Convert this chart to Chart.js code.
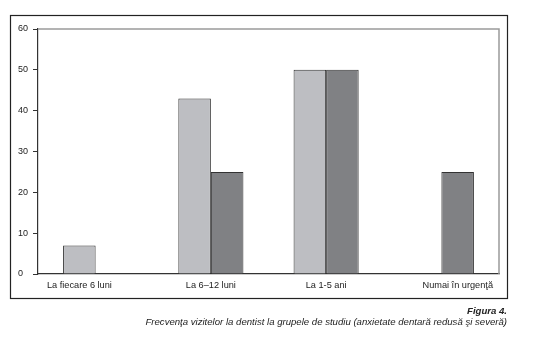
<!DOCTYPE html>
<html>
<head>
<meta charset="utf-8">
<script src="https://cdn.jsdelivr.net/npm/chart.js@4"></script>
<style>
  body { margin: 0; background: #fff; }
  #wrap { position: relative; width: 539px; height: 350px; }
  .cap { position: absolute; right: 32px; font-family: "Liberation Sans", Arial, sans-serif;
         font-style: italic; font-size: 9.6px; color: #222; white-space: nowrap; }
</style>
</head>
<body>
<div id="wrap">
  <canvas id="myChart" width="539" height="350"></canvas>
  <div class="cap" style="top:305px;font-weight:bold;font-size:9.6px;">Figura 4.</div>
  <div class="cap" style="top:316px;">Frecvenţa vizitelor la dentist la grupele de studiu (anxietate dentară redusă şi severă)</div>
</div>
<script>
'use strict';

// data
const categories = ['La fiecare 6 luni', 'La 6–12 luni', 'La 1-5 ani', 'Numai în urgenţă'];
const reduced = [7, 43, 50, 0];
const severe = [0, 25, 50, 25];
const yTicks = [0, 10, 20, 30, 40, 50, 60];

const font = { family: '"Liberation Sans", Arial, sans-serif', size: 9.2 };

// outer frame + grey top/right border + category labels
const framePlugin = {
  id: 'frame',
  beforeDraw(chart) {
    const c = chart.ctx;
    c.save();
    c.strokeStyle = '#222';
    c.lineWidth = 1.2;
    c.strokeRect(10.5, 15.5, 497, 283);
    c.restore();
  },
  afterDraw(chart) {
    const c = chart.ctx;
    const a = chart.chartArea;
    c.save();
    c.strokeStyle = '#9a9a9a';
    c.lineWidth = 1.5;
    c.beginPath();
    c.moveTo(a.left, a.top);
    c.lineTo(a.right, a.top);
    c.lineTo(a.right, a.bottom);
    c.stroke();

    // x labels: first and last kept inside the plot
    const xs = chart.scales.x;
    c.fillStyle = '#222';
    c.font = font.size + 'px ' + font.family;
    c.textBaseline = 'middle';
    const y = a.bottom + 11;
    for (let i = 0; i < categories.length; i++) {
      let x = xs.getPixelForValue(i);
      c.textAlign = 'center';
      if (i === 0) { c.textAlign = 'left'; x = a.left + 9; }
      if (i === categories.length - 1) { c.textAlign = 'right'; x = a.right - 6; }
      c.fillText(categories[i], x, y);
    }
    c.restore();
  }
};

const ctx = document.getElementById('myChart').getContext('2d');
const myChart = new Chart(ctx, {
  type: 'bar',
  data: {
    labels: categories,
    datasets: [{
      data: reduced,
      backgroundColor: '#bdbec2',
      borderColor: '#333',
      borderWidth: 1,
      borderSkipped: 'bottom'
    }, {
      data: severe,
      backgroundColor: '#808184',
      borderColor: '#333',
      borderWidth: 1,
      borderSkipped: 'bottom'
    }]
  },
  options: {
    responsive: false,
    animation: false,
    layout: { padding: { left: 18, top: 29, right: 40, bottom: 56 } },
    plugins: { legend: { display: false }, tooltip: { enabled: false } },
    datasets: { bar: { barPercentage: 1, categoryPercentage: 0.565 } },
    scales: {
      x: {
        grid: { display: false },
        border: { color: '#333', width: 1.2 },
        ticks: { display: false },
        afterFit(scale) { scale.height = 20; }
      },
      y: {
        min: 0,
        max: 60,
        afterBuildTicks(scale) { scale.ticks = yTicks.map(v => ({ value: v })); },
        grid: {
          drawOnChartArea: false,
          tickColor: '#333',
          tickLength: 5
        },
        border: { color: '#333', width: 1.2 },
        ticks: { color: '#222', font: { family: font.family, size: 9 }, crossAlign: 'far', padding: 5 },
        afterFit(scale) { scale.width = 20; }
      }
    }
  },
  plugins: [framePlugin]
});
</script>
</body>
</html>
